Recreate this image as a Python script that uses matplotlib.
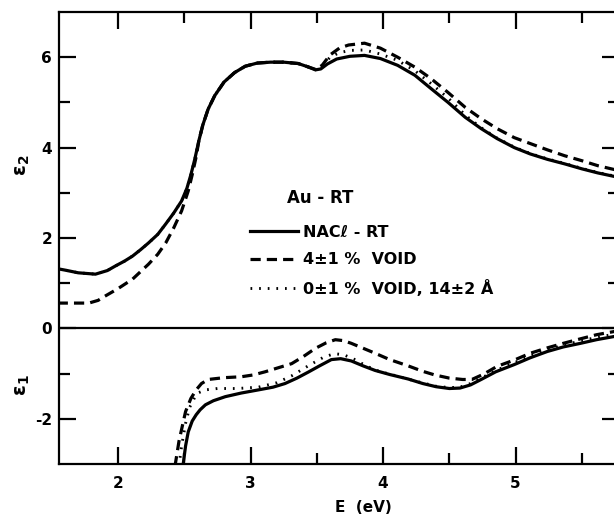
import matplotlib
matplotlib.use("Agg")
import matplotlib.pyplot as plt
from matplotlib.lines import Line2D

# ---- data ----
e2_solid_E = [1.545, 1.60, 1.70, 1.83, 1.92, 1.98, 2.05, 2.11, 2.17, 2.23, 2.30, 2.36, 2.42, 2.48,
              2.52, 2.55, 2.58, 2.61, 2.64, 2.68, 2.73, 2.80, 2.88, 2.96, 3.05, 3.15, 3.25, 3.36,
              3.43, 3.49, 3.53, 3.58, 3.65, 3.75, 3.86, 3.98, 4.11, 4.24, 4.36, 4.49, 4.62, 4.74,
              4.86, 4.99, 5.11, 5.24, 5.37, 5.50, 5.62, 5.78]
e2_solid = [1.32, 1.29, 1.23, 1.20, 1.28, 1.38, 1.49, 1.60, 1.74, 1.89, 2.08, 2.31, 2.55, 2.82,
            3.10, 3.40, 3.75, 4.15, 4.50, 4.85, 5.15, 5.45, 5.66, 5.80, 5.87, 5.89, 5.89, 5.86,
            5.79, 5.72, 5.74, 5.85, 5.96, 6.02, 6.04, 5.97, 5.82, 5.60, 5.31, 5.00, 4.67, 4.42,
            4.20, 4.00, 3.86, 3.74, 3.64, 3.53, 3.44, 3.34]

e2_dash_E = [1.545, 1.65, 1.78, 1.85, 1.90, 2.00, 2.11, 2.23, 2.30, 2.36, 2.42, 2.48, 2.53, 2.56,
             2.59, 2.61, 2.64, 2.68, 2.73, 2.80, 2.88, 2.96, 3.05, 3.15, 3.25, 3.36, 3.43, 3.49,
             3.54, 3.60, 3.67, 3.74, 3.86, 3.98, 4.11, 4.24, 4.36, 4.49, 4.62, 4.74, 4.86, 4.99,
             5.11, 5.24, 5.37, 5.50, 5.62, 5.78]
e2_dash = [0.56, 0.56, 0.56, 0.62, 0.71, 0.88, 1.09, 1.42, 1.64, 1.89, 2.22, 2.60, 3.04, 3.40,
           3.80, 4.15, 4.50, 4.85, 5.15, 5.45, 5.66, 5.80, 5.87, 5.89, 5.89, 5.86, 5.79, 5.73,
           5.82, 6.05, 6.20, 6.27, 6.31, 6.20, 6.00, 5.78, 5.53, 5.22, 4.89, 4.64, 4.42, 4.22,
           4.09, 3.95, 3.82, 3.71, 3.60, 3.49]

e2_dot_E = [1.545, 1.60, 1.70, 1.83, 1.92, 1.98, 2.05, 2.11, 2.17, 2.23, 2.30, 2.36, 2.42, 2.48,
            2.52, 2.55, 2.58, 2.61, 2.64, 2.68, 2.73, 2.80, 2.88, 2.96, 3.05, 3.15, 3.25, 3.36,
            3.43, 3.49, 3.54, 3.60, 3.67, 3.75, 3.86, 3.98, 4.11, 4.24, 4.36, 4.49, 4.62, 4.74,
            4.86, 4.99, 5.11, 5.24, 5.37, 5.50, 5.62, 5.78]
e2_dot = [1.32, 1.29, 1.23, 1.20, 1.28, 1.38, 1.49, 1.60, 1.74, 1.89, 2.08, 2.31, 2.55, 2.82,
          3.10, 3.40, 3.75, 4.15, 4.50, 4.85, 5.15, 5.45, 5.66, 5.80, 5.87, 5.89, 5.89, 5.86,
          5.79, 5.72, 5.80, 6.00, 6.10, 6.15, 6.16, 6.07, 5.93, 5.70, 5.42, 5.10, 4.72, 4.44,
          4.21, 4.01, 3.87, 3.75, 3.65, 3.54, 3.45, 3.35]

e1_solid_E = [2.49, 2.51, 2.53, 2.56, 2.59, 2.62, 2.66, 2.72, 2.81, 2.93, 3.06, 3.17, 3.26, 3.35,
              3.44, 3.52, 3.61, 3.68, 3.76, 3.85, 3.94, 4.05, 4.19, 4.30, 4.40, 4.50, 4.58, 4.66,
              4.74, 4.85, 4.99, 5.11, 5.24, 5.36, 5.49, 5.61, 5.78]
e1_solid = [-3.05, -2.60, -2.29, -2.05, -1.91, -1.80, -1.69, -1.60, -1.51, -1.43, -1.36, -1.30,
            -1.22, -1.10, -0.96, -0.83, -0.69, -0.67, -0.72, -0.83, -0.93, -1.02, -1.12, -1.22,
            -1.29, -1.33, -1.32, -1.25, -1.13, -0.96, -0.80, -0.65, -0.51, -0.41, -0.33, -0.25,
            -0.16]

e1_dash_E = [2.43, 2.46, 2.49, 2.51, 2.55, 2.59, 2.63, 2.68, 2.80, 2.93, 3.02, 3.11, 3.21, 3.31,
             3.40, 3.49, 3.57, 3.64, 3.70, 3.76, 3.85, 3.94, 4.05, 4.19, 4.30, 4.39, 4.50, 4.60,
             4.67, 4.76, 4.86, 4.99, 5.11, 5.24, 5.36, 5.49, 5.61, 5.78]
e1_dash = [-3.05, -2.50, -2.10, -1.84, -1.55, -1.36, -1.22, -1.13, -1.09, -1.07, -1.03, -0.96,
           -0.87, -0.78, -0.62, -0.44, -0.32, -0.25, -0.27, -0.33, -0.44, -0.55, -0.69, -0.83,
           -0.95, -1.03, -1.10, -1.13, -1.13, -1.01, -0.84, -0.70, -0.55, -0.43, -0.33, -0.23,
           -0.14, -0.05]

e1_dot_E = [2.46, 2.48, 2.51, 2.54, 2.58, 2.61, 2.66, 2.75, 2.90, 3.06, 3.20, 3.31, 3.44, 3.55,
            3.63, 3.70, 3.78, 3.88, 3.97, 4.10, 4.25, 4.40, 4.50, 4.58, 4.66, 4.74, 4.86, 4.99,
            5.11, 5.24, 5.36, 5.49, 5.61, 5.78]
e1_dot = [-3.05, -2.60, -2.10, -1.75, -1.52, -1.42, -1.36, -1.33, -1.33, -1.30, -1.20, -1.05,
          -0.82, -0.64, -0.56, -0.58, -0.68, -0.84, -0.95, -1.05, -1.17, -1.28, -1.31, -1.30,
          -1.22, -1.10, -0.92, -0.76, -0.61, -0.48, -0.37, -0.28, -0.20, -0.11]

x_ticks = [2, 3, 4, 5]
y_ticks = [-2, 0, 2, 4, 6]
labels = ["NAC\u2113 - RT", "4\u00b11 %  VOID", "0\u00b11 %  VOID, 14\u00b12 \u00c5"]

# ---- figure ----
W, H = 614, 515
fig = plt.figure(figsize=(W / 100, H / 100), dpi=100)
L, R, T, B = 59, 619, 12, 464
ax = fig.add_axes([L / W, 1 - B / H, (R - L) / W, (B - T) / H])
ax.set_xlim(1.555, 5.78)
ax.set_ylim(-3.0, 7.0)

lw = 2.3
k = "black"
DASH = (3.2, 1.9)
DOT = (0.6, 2.4)
ax.plot(e2_solid_E, e2_solid, color=k, lw=lw, solid_capstyle="butt")
ax.plot(e2_dash_E, e2_dash, color=k, lw=lw, dashes=DASH)
ax.plot(e2_dot_E, e2_dot, color=k, lw=lw * 0.9, dashes=DOT)
ax.plot(e1_solid_E, e1_solid, color=k, lw=lw, solid_capstyle="butt")
ax.plot(e1_dash_E, e1_dash, color=k, lw=lw, dashes=DASH)
ax.plot(e1_dot_E, e1_dot, color=k, lw=lw * 0.9, dashes=DOT)
ax.axhline(0, color=k, lw=1.6)

for s in ax.spines.values():
    s.set_linewidth(1.6)

font = "DejaVu Sans"
ax.set_xticks(x_ticks)
ax.set_xticks([2.5, 3.5, 4.5, 5.5], minor=True)
ax.set_yticks(y_ticks)
ax.set_yticks([-1, 1, 3, 5], minor=True)
ax.tick_params(which="both", direction="in", top=True, right=True, width=1.6)
ax.tick_params(which="major", length=12)
ax.tick_params(which="minor", length=8)
ax.tick_params(axis="x", which="major", pad=9)
ax.tick_params(axis="y", which="major", pad=5)
ax.set_xticklabels([str(v) for v in x_ticks], fontsize=11, fontweight="bold", family=font)
ax.set_yticklabels([str(v) for v in y_ticks], fontsize=11, fontweight="bold", family=font)

ax.set_xlabel("E  (eV)", fontsize=11, fontweight="bold", family=font)
ax.xaxis.set_label_coords((363 - L) / (R - L), -(507 - B) / (B - T))
ax.xaxis.label.set_va("center")

fig.text(23 / W, 1 - 165 / H, r"$\mathbf{\epsilon_2}$", rotation=90, fontsize=14,
         ha="center", va="center")
fig.text(23 / W, 1 - 385 / H, r"$\mathbf{\epsilon_1}$", rotation=90, fontsize=14,
         ha="center", va="center")

fig.text(287 / W, 1 - 198 / H, "Au - RT", fontsize=12, fontweight="bold", family=font,
         ha="left", va="center")

handles = [Line2D([], [], color=k, lw=lw),
           Line2D([], [], color=k, lw=lw, dashes=DASH),
           Line2D([], [], color=k, lw=lw * 0.9, dashes=DOT)]
leg = ax.legend(handles, labels, loc="upper left",
                bbox_to_anchor=((250 - L) / (R - L), 1 - (225 - T) / (B - T)),
                frameon=False, handlelength=3.0, handletextpad=0.32, labelspacing=0.78,
                borderaxespad=0, borderpad=0,
                prop={"family": font, "weight": "bold", "size": 11.5})

fig.savefig("out.png", dpi=100)
